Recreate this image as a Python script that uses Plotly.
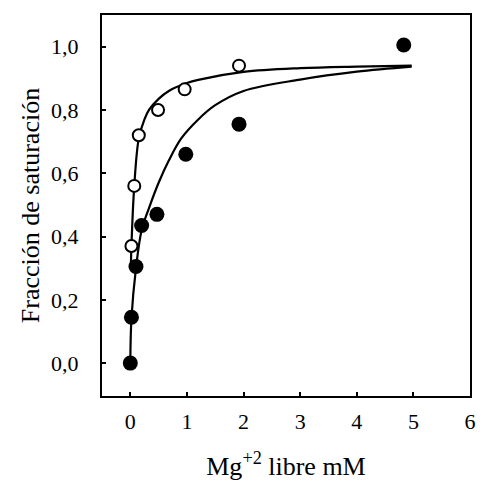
import plotly.graph_objects as go

# Data
open_x = [0.02, 0.07, 0.15, 0.49, 0.96, 1.92]
open_y = [0.37, 0.56, 0.72, 0.80, 0.865, 0.94]

filled_x = [0.0, 0.02, 0.10, 0.20, 0.47, 0.98, 1.92, 4.83]
filled_y = [0.0, 0.145, 0.305, 0.435, 0.47, 0.66, 0.755, 1.005]

open_fit_x = [0.01, 0.02, 0.07, 0.15, 0.25, 0.33, 0.5, 0.68, 1.0, 1.2, 2.0, 3.0, 4.0, 4.97]
open_fit_y = [0.30, 0.37, 0.56, 0.71, 0.77, 0.80, 0.835, 0.86, 0.885, 0.895, 0.92, 0.932, 0.937, 0.94]

filled_fit_x = [0.0, 0.02, 0.1, 0.2, 0.33, 0.5, 0.68, 0.9, 1.2, 1.5, 2.0, 3.0, 4.0, 4.97]
filled_fit_y = [0.0, 0.14, 0.30, 0.42, 0.49, 0.57, 0.64, 0.71, 0.77, 0.815, 0.86, 0.896, 0.921, 0.937]

x_ticks = [0, 1, 2, 3, 4, 5, 6]
y_ticks = [0.0, 0.2, 0.4, 0.6, 0.8, 1.0]
y_tick_labels = ["0,0", "0,2", "0,4", "0,6", "0,8", "1,0"]

font_family = "Liberation Serif"

fig = go.Figure()
fig.add_trace(go.Scatter(x=open_fit_x, y=open_fit_y, mode="lines",
                         line=dict(color="black", width=2.2, shape="spline"),
                         showlegend=False, hoverinfo="skip"))
fig.add_trace(go.Scatter(x=filled_fit_x, y=filled_fit_y, mode="lines",
                         line=dict(color="black", width=2.2, shape="spline"),
                         showlegend=False, hoverinfo="skip"))
fig.add_trace(go.Scatter(x=open_x, y=open_y, mode="markers",
                         marker=dict(symbol="circle", size=12, color="white",
                                     line=dict(color="black", width=2)),
                         showlegend=False))
fig.add_trace(go.Scatter(x=filled_x, y=filled_y, mode="markers",
                         marker=dict(symbol="circle", size=15, color="black",
                                     line=dict(color="black", width=0)),
                         showlegend=False))

fig.update_layout(
    width=483, height=483,
    margin=dict(l=102, r=7, t=15, b=86),
    paper_bgcolor="white", plot_bgcolor="white",
    font=dict(family=font_family, color="black", size=20),
    xaxis=dict(range=[-0.5, 6], tickvals=x_ticks, ticks="inside", ticklen=4,
               tickwidth=1.5, tickcolor="black", ticklabelstandoff=5,
               showline=True, linecolor="black", linewidth=2, mirror=True,
               showgrid=False, zeroline=False,
               tickfont=dict(size=22),
               title=dict(text="Mg<sup>+2</sup> libre mM", font=dict(size=26), standoff=23)),
    yaxis=dict(range=[-0.104, 1.1], tickvals=y_ticks, ticktext=y_tick_labels,
               ticks="inside", ticklen=4, tickwidth=1.5, tickcolor="black",
               ticklabelstandoff=17,
               showline=True, linecolor="black", linewidth=2, mirror=True,
               showgrid=False, zeroline=False,
               tickfont=dict(size=22),
               title=dict(text="Fracción de saturación", font=dict(size=26), standoff=4)),
)

fig.write_html("out.html", config={"displayModeBar": False},
               post_script="document.body.style.margin='0px';document.body.style.overflow='hidden';")
